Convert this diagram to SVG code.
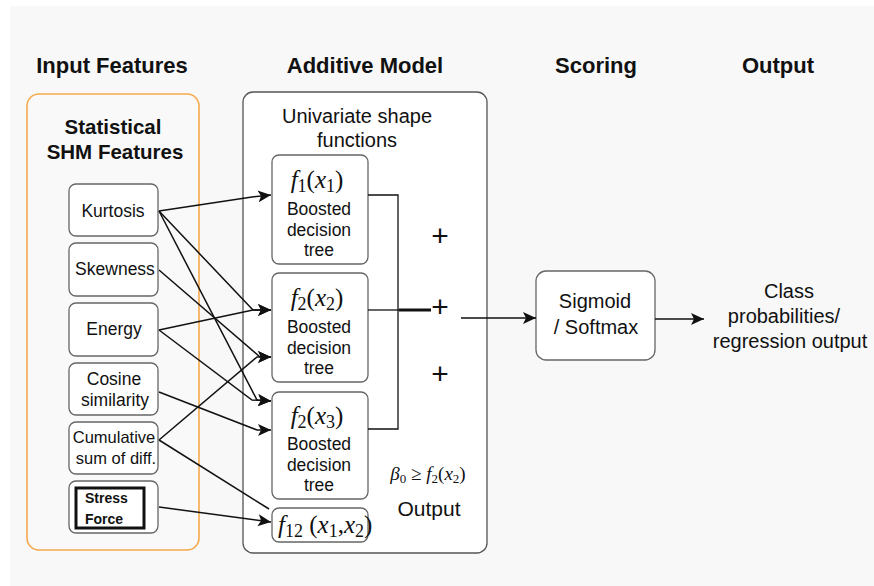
<svg xmlns="http://www.w3.org/2000/svg" width="874" height="586" viewBox="0 0 874 586">
<defs>
<style>
.hdr{font-family:"Liberation Sans",Arial,sans-serif;font-weight:bold;font-size:22px;fill:#111;text-anchor:middle}
.t{font-family:"Liberation Sans",Arial,sans-serif;font-size:17.5px;fill:#111;text-anchor:middle}
.tl{font-family:"Liberation Sans",Arial,sans-serif;font-size:20px;fill:#111;text-anchor:middle}
.m{font-family:"Liberation Serif","Times New Roman",serif;font-size:25px;fill:#111}
.it{font-style:italic}
.box{fill:#fff;stroke:#666;stroke-width:1.3}
.con{fill:none;stroke:#111;stroke-width:1.5}
.plus{font-family:"Liberation Sans",Arial,sans-serif;font-size:30px;fill:#111;text-anchor:middle}
</style>
<marker id="ah" markerUnits="userSpaceOnUse" markerWidth="14" markerHeight="12" refX="13" refY="6" orient="auto">
<path d="M0,0 L13,6 L0,12 L3,6 z" fill="#111"/>
</marker>
</defs>
<rect x="0" y="0" width="874" height="586" fill="#fff"/>
<rect x="10" y="6" width="864" height="580" fill="#f8f8f8"/>

<g id="headers">
<text class="hdr" x="112" y="73">Input Features</text>
<text class="hdr" x="365" y="73">Additive Model</text>
<text class="hdr" x="596" y="73">Scoring</text>
<text class="hdr" x="778" y="73">Output</text>
</g>

<g id="input-group">
<rect x="27" y="94" width="172" height="456" rx="12" fill="#f9f9f9" stroke="#f5a94c" stroke-width="1.6"/>
<text class="hdr" style="font-size:20.5px" x="113" y="134">Statistical</text>
<text class="hdr" style="font-size:20.5px" x="115" y="159">SHM Features</text>
</g>

<g id="kurtosis"><rect class="box" x="69" y="184" width="89" height="52" rx="7"/><text class="t" x="113" y="217">Kurtosis</text></g>
<g id="skewness"><rect class="box" x="69" y="243" width="89" height="53" rx="7"/><text class="t" x="115" y="275">Skewness</text></g>
<g id="energy"><rect class="box" x="69" y="303" width="89" height="53" rx="7"/><text class="t" x="114" y="335">Energy</text></g>
<g id="cosine"><rect class="box" x="69" y="363" width="89" height="52" rx="7"/><text class="t" x="114" y="385">Cosine</text><text class="t" x="115" y="406">similarity</text></g>
<g id="cumulative"><rect class="box" x="69" y="422" width="89" height="52" rx="7"/><text class="t" style="font-size:16.5px" x="114" y="443">Cumulative</text><text class="t" style="font-size:16.5px" x="116" y="464">sum of diff.</text></g>
<g id="stress"><rect class="box" x="69" y="481" width="89" height="52" rx="7"/>
<rect x="76" y="488" width="68" height="40" fill="#fff" stroke="#111" stroke-width="3"/>
<text x="85" y="503" style="font-family:'Liberation Sans',Arial,sans-serif;font-weight:bold;font-size:14px;fill:#111">Stress</text>
<text x="85" y="524" style="font-family:'Liberation Sans',Arial,sans-serif;font-weight:bold;font-size:14px;fill:#111">Force</text>
</g>

<g id="additive-model">
<rect x="243" y="92" width="244" height="461" rx="10" fill="#fff" stroke="#555" stroke-width="1.3"/>
<text class="tl" x="357" y="123">Univariate shape</text>
<text class="tl" x="357" y="147">functions</text>
</g>

<g id="f1"><rect class="box" x="272" y="155" width="96" height="109" rx="7"/>
<text class="m" x="317" y="188" text-anchor="middle"><tspan class="it">f</tspan><tspan font-size="18" dy="4">1</tspan><tspan dy="-4">(</tspan><tspan class="it">x</tspan><tspan font-size="18" dy="4">1</tspan><tspan dy="-4">)</tspan></text>
<text class="t" x="319" y="215">Boosted</text><text class="t" x="319" y="236">decision</text><text class="t" x="319" y="256">tree</text></g>

<g id="f2"><rect class="box" x="272" y="273" width="96" height="109" rx="7"/>
<text class="m" x="317" y="306" text-anchor="middle"><tspan class="it">f</tspan><tspan font-size="18" dy="4">2</tspan><tspan dy="-4">(</tspan><tspan class="it">x</tspan><tspan font-size="18" dy="4">2</tspan><tspan dy="-4">)</tspan></text>
<text class="t" x="319" y="333">Boosted</text><text class="t" x="319" y="354">decision</text><text class="t" x="319" y="374">tree</text></g>

<g id="f3"><rect class="box" x="272" y="392" width="96" height="107" rx="7"/>
<text class="m" x="317" y="424" text-anchor="middle"><tspan class="it">f</tspan><tspan font-size="18" dy="4">2</tspan><tspan dy="-4">(</tspan><tspan class="it">x</tspan><tspan font-size="18" dy="4">3</tspan><tspan dy="-4">)</tspan></text>
<text class="t" x="319" y="450">Boosted</text><text class="t" x="319" y="471">decision</text><text class="t" x="319" y="491">tree</text></g>

<g id="f12"><rect class="box" x="272" y="508" width="96" height="34" rx="7"/>
<text class="m" x="278" y="533"><tspan class="it">f</tspan><tspan font-size="18" dy="4">12</tspan><tspan dy="-4"> (</tspan><tspan class="it">x</tspan><tspan font-size="18" dy="4">1</tspan><tspan dy="-4">,</tspan><tspan class="it">x</tspan><tspan font-size="18" dy="4">2</tspan><tspan dy="-4">)</tspan></text></g>

<g id="sum">
<text class="plus" x="440" y="246">+</text>
<text class="plus" x="440" y="317">+</text>
<text class="plus" x="440" y="384">+</text>
<text class="m" style="font-size:19px" x="428" y="480" text-anchor="middle"><tspan class="it">β</tspan><tspan font-size="13" dy="3">0</tspan><tspan dy="-3"> ≥ </tspan><tspan class="it">f</tspan><tspan font-size="13" dy="3">2</tspan><tspan dy="-3">(</tspan><tspan class="it">x</tspan><tspan font-size="13" dy="3">2</tspan><tspan dy="-3">)</tspan></text>
<text class="tl" style="font-size:21px" x="429" y="516">Output</text>
</g>

<g id="sigmoid"><rect class="box" x="536" y="271" width="119" height="89" rx="10"/>
<text class="tl" x="595" y="308">Sigmoid</text><text class="tl" x="596" y="334">/ Softmax</text></g>

<g id="output"><text class="tl" x="789" y="298">Class</text><text class="tl" x="784" y="323">probabilities/</text><text class="tl" x="790" y="348">regression output</text></g>

<g id="connectors">
<path class="con" d="M159,211 L252,197 L271,195" marker-end="url(#ah)"/>
<path class="con" d="M159,211 L253,310 L271,310" marker-end="url(#ah)"/>
<path class="con" d="M159,211 L257,400 L271,401" marker-end="url(#ah)"/>
<path class="con" d="M159,270 L260,357 L271,357" marker-end="url(#ah)"/>
<path class="con" d="M159,330 L253,310 L271,310" marker-end="url(#ah)"/>
<path class="con" d="M159,330 L252,400 L271,401" marker-end="url(#ah)"/>
<path class="con" d="M159,392 L257,430 L271,430" marker-end="url(#ah)"/>
<path class="con" d="M159,440 L257,357 L271,357" marker-end="url(#ah)"/>
<path class="con" d="M159,440 L269,509"/>
<path class="con" d="M159,507 L271,522" marker-end="url(#ah)"/>
<path fill="none" stroke="#111" stroke-width="1.3" d="M368,195 H398 V429 H368"/>
<path fill="none" stroke="#111" stroke-width="1.3" d="M368,310 H400"/>
<path fill="none" stroke="#111" stroke-width="3" d="M399,310 H431"/>
<path class="con" d="M461,318 H536" marker-end="url(#ah)"/>
<path class="con" d="M655,319 H704" marker-end="url(#ah)"/>
</g>
</svg>
